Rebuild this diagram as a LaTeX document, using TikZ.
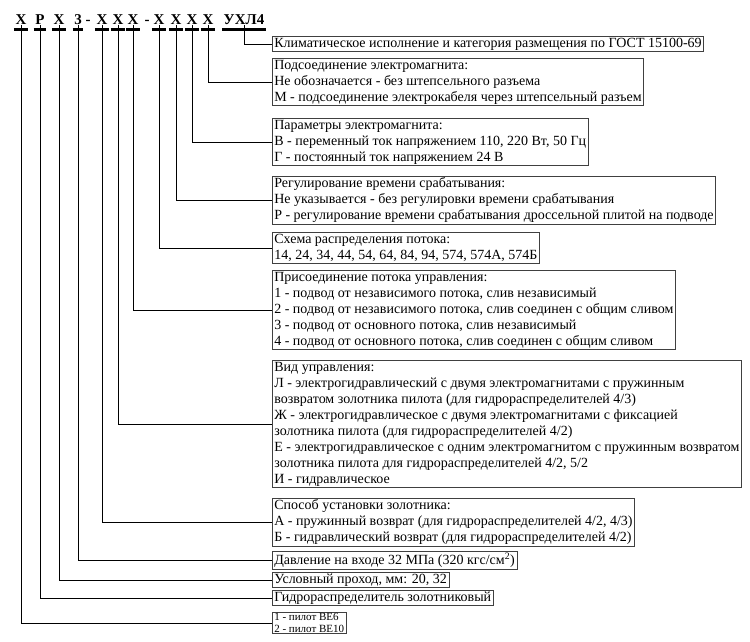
\documentclass[tikz,border=0pt]{standalone}
\usepackage{fontspec}
\setmainfont{Liberation Serif}
\usetikzlibrary{positioning}
\tikzset{code letter/.style={inner sep=0pt, anchor=base, font=\fontsize{15}{15}\selectfont\bfseries}}
\tikzset{code bar/.style={line width=3pt}}
\tikzset{key box/.style={draw=black!75, line width=0.6pt, anchor=west, align=left,
	inner xsep=2pt, inner ysep=1.5pt, font=\fontsize{14}{16}\selectfont}}
\tikzset{small box/.style={key box, inner ysep=1pt, font=\fontsize{11}{12}\selectfont}}
\tikzset{lead/.style={line width=0.9pt}}

\begin{document}
\begin{tikzpicture}[x=1pt, y=-1pt]
	\useasboundingbox (0,0) rectangle (750,642);
	% designation code
	\node[code letter] at (21,25)  (code_1) {Х};
	\node[code letter] at (40,25)  (code_2) {Р};
	\node[code letter] at (59,25)  (code_3) {Х};
	\node[code letter] at (78,25)  (code_4) {3};
	\node[code letter] at (88,25)  (dash_1) {-};
	\node[code letter] at (102,25) (code_5) {Х};
	\node[code letter] at (118,25) (code_6) {Х};
	\node[code letter] at (133,25) (code_7) {Х};
	\node[code letter] at (147,25) (dash_2) {-};
	\node[code letter] at (159,25) (code_8) {Х};
	\node[code letter] at (176,25) (code_9) {Х};
	\node[code letter] at (192,25) (code_10) {Х};
	\node[code letter] at (208,25) (code_11) {Х};
	\node[code letter] at (244,25) (code_u) {УХЛ4};
	\foreach \c in {code_1,code_2,code_3,code_4,code_5,code_6,code_7,code_8,code_9,code_10,code_11,code_u}
		\draw[code bar] ([xshift=-1.5pt,yshift=-4pt]\c.south west) -- ([xshift=1.5pt,yshift=-4pt]\c.south east);
	% explanation boxes
	\node[key box] at (272,44)  (box_1)  {Климатическое исполнение и категория размещения по ГОСТ 15100-69};
	\node[key box] at (272,82)  (box_2)  {Подсоединение электромагнита:\\Не обозначается - без штепсельного разъема\\М - подсоединение электрокабеля через штепсельный разъем};
	\node[key box] at (272,142) (box_3)  {Параметры электромагнита:\\В - переменный ток напряжением 110, 220 Вт, 50 Гц\\Г - постоянный ток напряжением 24 В};
	\node[key box] at (272,200) (box_4)  {Регулирование времени срабатывания:\\Не указывается - без регулировки времени срабатывания\\Р - регулирование времени срабатывания дроссельной плитой на подводе};
	\node[key box] at (272,248) (box_5)  {Схема распределения потока:\\14, 24, 34, 44, 54, 64, 84, 94, 574, 574А, 574Б};
	\node[key box] at (272,310) (box_6)  {Присоединение потока управления:\\1 - подвод от независимого потока, слив независимый\\2 - подвод от независимого потока, слив соединен с общим сливом\\3 - подвод от основного потока, слив независимый\\4 - подвод от основного потока, слив соединен с общим сливом};
	\node[key box] at (272,424) (box_7)  {Вид управления:\\Л - электрогидравлический с двумя электромагнитами с пружинным\\возвратом золотника пилота (для гидрораспределителей 4/3)\\Ж - электрогидравлическое с двумя электромагнитами с фиксацией\\золотника пилота (для гидрораспределителей 4/2)\\Е - электрогидравлическое с одним электромагнитом с пружинным возвратом\\золотника пилота для гидрораспределителей 4/2, 5/2\\И - гидравлическое};
	\node[key box] at (272,522) (box_8)  {Способ установки золотника:\\А - пружинный возврат (для гидрораспределителей 4/2, 4/3)\\Б - гидравлический возврат (для гидрораспределителей 4/2)};
	\node[key box] at (272,560) (box_9)  {Давление на входе 32 МПа (320 кгс/см\textsuperscript{2})};
	\node[key box] at (272,580) (box_10) {Условный проход, мм: 20, 32};
	\node[key box] at (272,598) (box_11) {Гидрораспределитель золотниковый};
	\node[small box] at (272,623) (box_12) {1 - пилот ВЕ6\\2 - пилот ВЕ10};
	% leaders
	\draw[lead] (code_u.south) |- (box_1.west);
	\draw[lead] (code_11.south) |- (box_2.west);
	\draw[lead] (code_10.south) |- (box_3.west);
	\draw[lead] (code_9.south) |- (box_4.west);
	\draw[lead] (code_8.south) |- (box_5.west);
	\draw[lead] (code_7.south) |- (box_6.west);
	\draw[lead] (code_6.south) |- (box_7.west);
	\draw[lead] (code_5.south) |- (box_8.west);
	\draw[lead] (code_4.south) |- (box_9.west);
	\draw[lead] (code_3.south) |- (box_10.west);
	\draw[lead] (code_2.south) |- (box_11.west);
	\draw[lead] (code_1.south) |- (box_12.west);
\end{tikzpicture}
\end{document}
